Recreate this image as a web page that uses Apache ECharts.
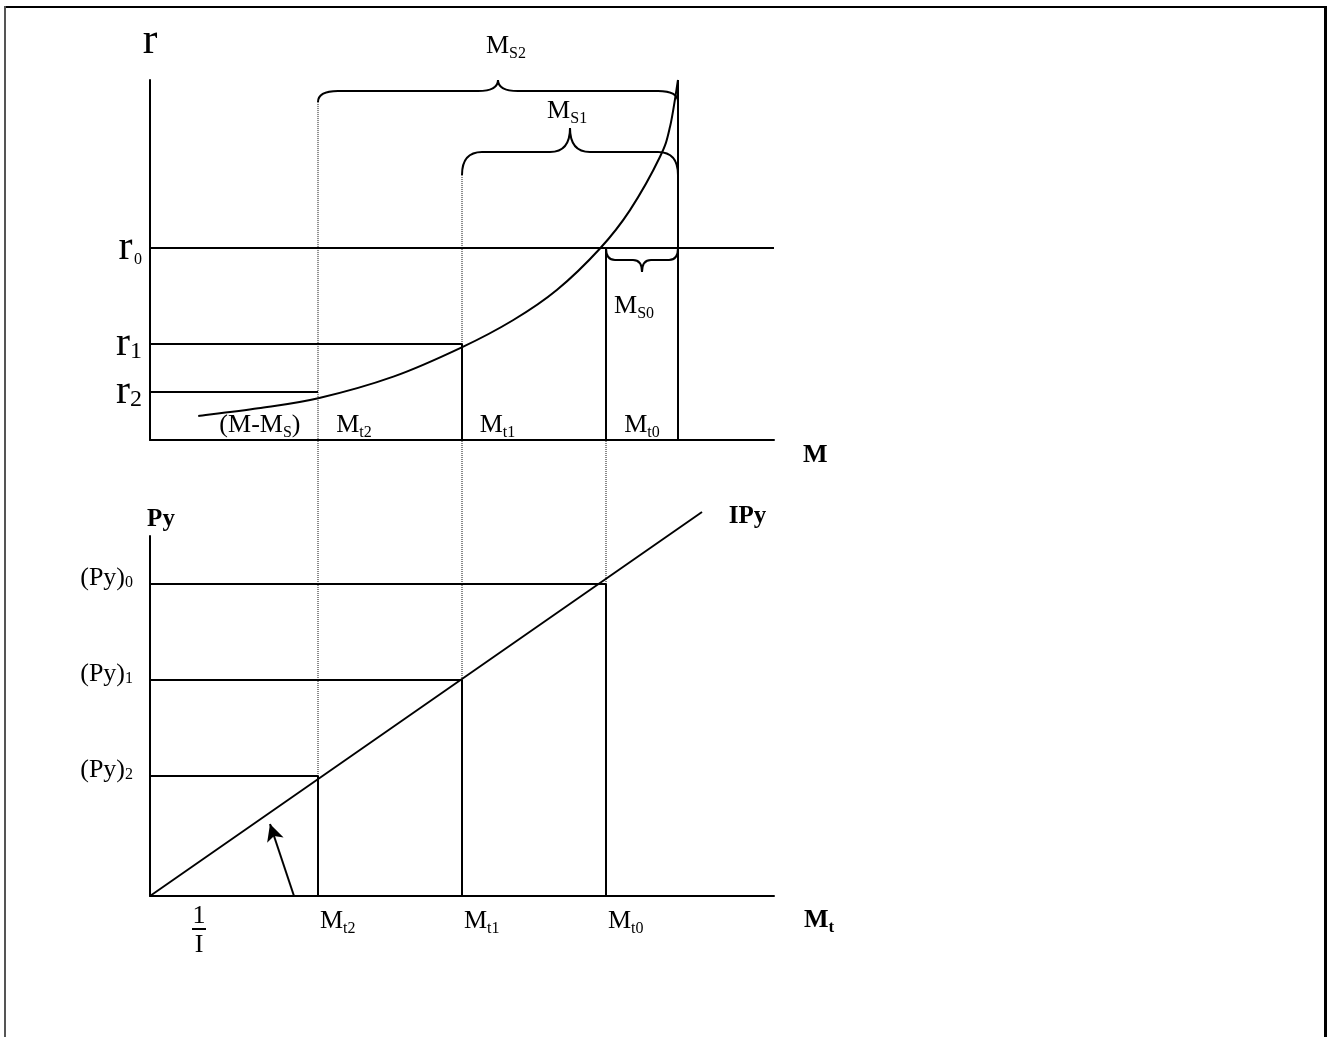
<!DOCTYPE html>
<html><head><meta charset="utf-8">
<script src="https://cdn.jsdelivr.net/npm/echarts@6/dist/echarts.min.js"></script>
<style>html,body{margin:0;padding:0;background:#fff}#c{width:1327px;height:1037px}</style>
</head><body><div id="c"></div>
<script>
// ---------------- data ----------------
const mtValues = [7, 13, 19];            // M_t2, M_t1, M_t0
const mtSubs = ['t2', 't1', 't0'];
const mTotal = 22;                       // M (total money)
const rValues = [1, 2, 4];               // r2, r1, r0
const rSubs = ['2', '1', '0'];
const pyValues = [5, 9, 13];             // (Py)2, (Py)1, (Py)0
const pySubs = ['2', '1', '0'];
const curveM = [2.01, 4.51, 7.01, 10.14, 12.99, 15.14, 16.95, 18.75, 20, 21.25, 21.67, 22];
const curveR = [0.5, 0.66, 0.87, 1.32, 1.93, 2.5, 3.125, 3.99, 4.79, 5.9, 6.53, 7.5];
const ipyM = [0, 23];
const ipyPy = [0, 16];
const braceFrom = [7, 13, 19];
const braceTo = [22, 22, 22];
const braceEnd = [7.04, 5.52, 4.0];
const braceLevel = [7.27, 6.0, 3.75];
const braceTip = [7.5, 6.5, 3.5];
const arrowFrom = [6, 0];
const arrowTo = [5, 3];
const slopeLabelAt = 1.75;
const topNoteText = ['(M-M{s|S})', 'M{s|t2}', 'M{s|t1}', 'M{s|t0}', 'M{s|S2}', 'M{s|S1}', 'M{s|S0}'];
const topNoteM = [4.58, 8.5, 14.48, 20.5, 14.83, 17.38, 20.17];
const topNoteR = [0.31, 0.31, 0.31, 0.31, 8.21, 6.85, 2.79];
const bottomNoteText = ['IPy'];
const bottomNoteM = [24.9];
const bottomNotePy = [15.8];

// ---------------- layout ----------------
const X_MAX = 26, TOP_Y_MAX = 7.5, BOT_Y_MAX = 15;
const GL = 150, GW = 624, TT = 80, TH = 360, BT = 536, BH = 360;
const gapTop = (BT + BH - (TT + TH)) / (BH / BOT_Y_MAX); // top panel's axis in bottom units

const SERIF = '"Liberation Serif", "Times New Roman", serif';
function ts(size, extra) { return Object.assign({ fontFamily: SERIF, fontSize: size, color: '#000' }, extra || {}); }
const near = (a, b) => Math.abs(a - b) < 1e-6;

function seg(pts, grid, dotted, clip) {
  return {
    type: 'line', xAxisIndex: grid, yAxisIndex: grid, data: pts, symbol: 'none', silent: true,
    clip: clip !== false, z: dotted ? 1 : 3,
    lineStyle: { color: dotted ? '#111' : '#000', width: dotted ? 1 : 2, type: dotted ? 'dotted' : 'solid' }
  };
}

const [mt2, mt1, mt0] = mtValues;
const [r2, r1, r0] = rValues;
const series = [];
// top panel solid lines
series.push(seg([[0, r0], [X_MAX, r0]], 0));
series.push(seg([[0, r1], [mt1, r1], [mt1, 0]], 0));
series.push(seg([[0, r2], [mt2, r2]], 0));
series.push(seg([[mt0, r0], [mt0, 0]], 0));
series.push(seg([[mTotal, TOP_Y_MAX], [mTotal, 0]], 0));
// top panel dotted
series.push(seg([[mt2, braceEnd[0]], [mt2, 0]], 0, true));
series.push(seg([[mt1, braceEnd[1]], [mt1, r1]], 0, true));
// curve: Catmull-Rom spline through the read points, mapped through the axes
series.push({
  type: 'custom', xAxisIndex: 0, yAxisIndex: 0, silent: true, clip: false, z: 3,
  data: curveM.map((m, i) => [m, curveR[i]]),
  encode: { x: 0, y: 1 },
  renderItem: function (params, api) {
    if (params.dataIndex !== 0) return null;
    const P = curveM.map((m, i) => api.coord([m, curveR[i]]));
    let d = 'M' + P[0][0] + ',' + P[0][1];
    for (let i = 0; i < P.length - 1; i++) {
      const p0 = P[Math.max(0, i - 1)], p1 = P[i], p2 = P[i + 1], p3 = P[Math.min(P.length - 1, i + 2)];
      const c1 = [p1[0] + (p2[0] - p0[0]) / 6, p1[1] + (p2[1] - p0[1]) / 6];
      const c2 = [p2[0] - (p3[0] - p1[0]) / 6, p2[1] - (p3[1] - p1[1]) / 6];
      d += ' C' + c1[0] + ',' + c1[1] + ' ' + c2[0] + ',' + c2[1] + ' ' + p2[0] + ',' + p2[1];
    }
    return { type: 'path', shape: { pathData: d }, style: { fill: 'none', stroke: '#000', lineWidth: 2 } };
  }
});
// braces
series.push({
  type: 'custom', xAxisIndex: 0, yAxisIndex: 0, silent: true, clip: false, z: 3,
  data: braceFrom.map((f, i) => [f, braceTo[i], braceEnd[i], braceLevel[i], braceTip[i]]),
  encode: { x: [0, 1], y: [2, 3, 4] },
  renderItem: function (params, api) {
    const x1 = api.value(0), x2 = api.value(1), yE = api.value(2), yL = api.value(3), yT = api.value(4);
    const xm = (x1 + x2) / 2;
    const a = api.coord([x1, yE]), b = api.coord([x1, yL]), m = api.coord([xm, yL]);
    const t = api.coord([xm, yT]), c = api.coord([x2, yL]), d = api.coord([x2, yE]);
    const r = Math.min(20, (c[0] - b[0]) / 8);
    const p = 'M' + a[0] + ',' + a[1] + ' Q' + b[0] + ',' + b[1] + ' ' + (b[0] + r) + ',' + b[1] +
      ' L' + (m[0] - r) + ',' + m[1] + ' Q' + m[0] + ',' + m[1] + ' ' + t[0] + ',' + t[1] +
      ' Q' + m[0] + ',' + m[1] + ' ' + (m[0] + r) + ',' + m[1] +
      ' L' + (c[0] - r) + ',' + c[1] + ' Q' + c[0] + ',' + c[1] + ' ' + d[0] + ',' + d[1];
    return { type: 'path', shape: { pathData: p }, style: { fill: 'none', stroke: '#000', lineWidth: 2 } };
  }
});
// top annotations
const noteRich = { s: ts(16, { verticalAlign: 'bottom', lineHeight: 32 }) };
series.push({
  type: 'scatter', xAxisIndex: 0, yAxisIndex: 0, symbolSize: 0, silent: true, clip: false, z: 5,
  itemStyle: { opacity: 1 },
  data: topNoteText.map((t, i) => ({ value: [topNoteM[i], topNoteR[i]], label: { formatter: t } })),
  label: Object.assign({ show: true, position: 'inside', opacity: 1, rich: noteRich }, ts(26))
});

// bottom panel
pyValues.forEach((py, i) => {
  series.push(seg([[0, py], [mtValues[i], py], [mtValues[i], 0]], 1));
  series.push(seg([[mtValues[i], py], [mtValues[i], gapTop]], 1, true, false));
});
series.push({
  type: 'line', xAxisIndex: 1, yAxisIndex: 1, symbol: 'none', silent: true, clip: false, z: 3,
  data: ipyM.map((m, i) => [m, ipyPy[i]]),
  lineStyle: { color: '#000', width: 2 },
  markLine: {
    silent: true, symbol: ['none', 'arrow'], symbolSize: [13, 17], animation: false,
    label: { show: false },
    lineStyle: { color: '#000', width: 2, type: 'solid' },
    data: [[{ coord: arrowFrom }, { coord: arrowTo }]]
  }
});
series.push({
  type: 'scatter', xAxisIndex: 1, yAxisIndex: 1, symbolSize: 0, silent: true, clip: false, z: 5,
  itemStyle: { opacity: 1 },
  data: bottomNoteText.map((t, i) => ({ value: [bottomNoteM[i], bottomNotePy[i]], label: { formatter: t } })),
  label: Object.assign({ show: true, position: 'inside', opacity: 1 }, ts(25, { fontWeight: 'bold' }))
});

const axisLine = { show: true, onZero: false, lineStyle: { color: '#000', width: 2 } };
const option = {
  animation: false,
  backgroundColor: '#fff',
  textStyle: { fontFamily: SERIF, color: '#000' },
  grid: [
    { left: GL, top: TT, width: GW, height: TH },
    { left: GL, top: BT, width: GW, height: BH }
  ],
  xAxis: [
    {
      gridIndex: 0, type: 'value', min: 0, max: X_MAX, interval: 1,
      axisLine: axisLine, axisTick: { show: false }, axisLabel: { show: false }, splitLine: { show: false },
      name: '{b|M}', nameLocation: 'end', nameGap: 29,
      nameTextStyle: ts(26, { fontWeight: 'bold', padding: [30, 0, 0, 0],
        rich: { b: ts(26, { fontWeight: 'bold' }) } })
    },
    {
      gridIndex: 1, type: 'value', min: 0, max: X_MAX, interval: 0.25,
      axisLine: axisLine, axisTick: { show: false }, splitLine: { show: false },
      axisLabel: Object.assign({
        show: true, margin: 9, align: 'left',
        formatter: function (v) {
          if (near(v, slopeLabelAt)) return '{n|1}\n{bar| }\n{d|I}';
          const i = mtValues.findIndex(m => near(m, v));
          return i >= 0 ? '{m|M}{s|' + mtSubs[i] + '}' : '';
        },
        rich: {
          m: ts(26, { padding: [0, 0, 0, 2] }),
          s: ts(16, { verticalAlign: 'bottom', lineHeight: 32 }),
          n: ts(26, { width: 14, align: 'center', lineHeight: 22 }),
          bar: ts(4, { width: 14, height: 2, lineHeight: 4, backgroundColor: '#000' }),
          d: ts(26, { width: 14, align: 'center', lineHeight: 28 })
        }
      }, ts(26)),
      name: '{b|M}{bs|t}', nameLocation: 'end', nameGap: 30,
      nameTextStyle: ts(26, { fontWeight: 'bold', padding: [48, 0, 0, 0],
        rich: { b: ts(26, { fontWeight: 'bold' }), bs: ts(17, { fontWeight: 'bold', verticalAlign: 'bottom', lineHeight: 32 }) } })
    }
  ],
  yAxis: [
    {
      gridIndex: 0, type: 'value', min: 0, max: TOP_Y_MAX, interval: 1,
      axisLine: axisLine, axisTick: { show: false }, splitLine: { show: false },
      axisLabel: Object.assign({
        show: true, margin: 8,
        formatter: function (v) {
          const i = rValues.findIndex(r => near(r, v));
          if (i < 0) return '';
          return '{r|r}' + (rSubs[i] === '0' ? '{z| }{t|0}' : '{s|' + rSubs[i] + '}');
        },
        rich: {
          r: ts(42, { lineHeight: 40 }),
          s: ts(24, { verticalAlign: 'bottom', lineHeight: 40 }),
          z: ts(6),
          t: ts(16, { verticalAlign: 'bottom', lineHeight: 40 })
        }
      }, ts(26)),
      name: 'r', nameLocation: 'end', nameGap: 17, nameTextStyle: ts(44)
    },
    {
      gridIndex: 1, type: 'value', min: 0, max: BOT_Y_MAX, interval: 1,
      axisLine: axisLine, axisTick: { show: false }, splitLine: { show: false },
      axisLabel: Object.assign({
        show: true, margin: 17,
        formatter: function (v) {
          const i = pyValues.findIndex(p => near(p, v));
          return i < 0 ? '' : '{p|(Py)}{s|' + pySubs[i] + '}';
        },
        rich: {
          p: ts(26, { padding: [0, 0, 12, 0] }),
          s: ts(16, { verticalAlign: 'bottom', lineHeight: 32, padding: [0, 0, 12, 0] })
        }
      }, ts(26)),
      name: 'Py', nameLocation: 'end', nameGap: 4,
      nameTextStyle: ts(25, { fontWeight: 'bold', padding: [0, 0, 0, 22] })
    }
  ],
  graphic: [
    { type: 'rect', shape: { x: 4, y: 6, width: 1323, height: 2 }, style: { fill: '#000' }, silent: true },
    { type: 'rect', shape: { x: 4, y: 6, width: 2, height: 1031 }, style: { fill: '#555' }, silent: true },
    { type: 'rect', shape: { x: 1324, y: 6, width: 3, height: 1031 }, style: { fill: '#000' }, silent: true }
  ],
  series: series
};
const chart = echarts.init(document.getElementById('c'), null, { renderer: 'canvas' });
chart.setOption(option);
</script>
</body></html>
